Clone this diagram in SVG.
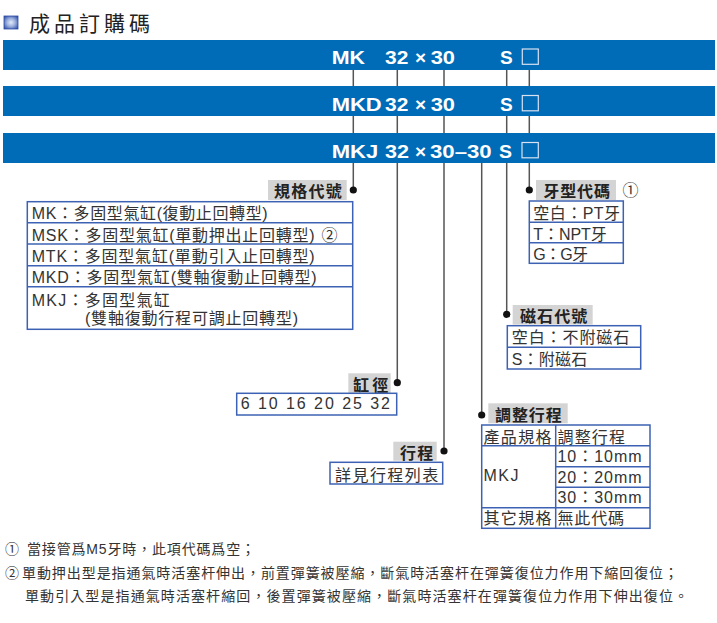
<svg xmlns="http://www.w3.org/2000/svg" width="717" height="623" viewBox="0 0 717 623">
<defs>
<radialGradient id="ico" cx="50%" cy="50%" r="65%">
<stop offset="0" stop-color="#e4ebf8"/>
<stop offset="0.45" stop-color="#9fb3e0"/>
<stop offset="1" stop-color="#2d4da6"/>
</radialGradient>
<style>
.bar{fill:#006bb6}
.bt{font-family:"Liberation Sans","Noto Sans CJK TC",sans-serif;font-weight:bold;font-size:19px;fill:#fff}
.bx{fill:none;stroke:#d6e2f2;stroke-width:1.2}
.ln{stroke:#555;stroke-width:1.5;fill:none}
.dot{fill:#111}
.lbg{fill:#d4d4d4}
.lt{font-family:"Noto Sans CJK TC","Liberation Sans",sans-serif;font-weight:bold;font-size:16px;fill:#222}
.tb{fill:#fff;stroke:#3d62b3;stroke-width:1.5}
.tl{stroke:#3d62b3;stroke-width:1.5}
.tt{font-family:"Liberation Sans","Noto Sans CJK TC",sans-serif;font-size:16px;fill:#333}
.fn{font-family:"Liberation Sans","Noto Sans CJK TC",sans-serif;font-size:14px;fill:#333}
</style>
</defs>
<rect width="717" height="623" fill="#fff"/>

<g id="title">
<rect x="4" y="16" width="14" height="13" fill="url(#ico)" stroke="#2d4da6" stroke-width="0.8"/>
<text x="29" y="31" font-family="Noto Sans CJK TC,sans-serif" font-size="21" fill="#222" textLength="121" lengthAdjust="spacing">成品訂購碼</text>
</g>

<g id="connectors">
<line class="ln" x1="353.3" y1="70" x2="353.3" y2="190"/>
<line class="ln" x1="397.3" y1="70" x2="397.3" y2="382.7"/>
<line class="ln" x1="444" y1="70" x2="444" y2="451"/>
<line class="ln" x1="481.7" y1="163" x2="481.7" y2="415"/>
<line class="ln" x1="506.7" y1="70" x2="506.7" y2="314.3"/>
<line class="ln" x1="529.3" y1="70" x2="529.3" y2="190"/>
<circle class="dot" cx="353.3" cy="190" r="3.6"/>
<circle class="dot" cx="397.3" cy="382.7" r="3.6"/>
<circle class="dot" cx="444" cy="451" r="3.6"/>
<circle class="dot" cx="481.7" cy="415" r="3.6"/>
<circle class="dot" cx="506.7" cy="314.3" r="3.6"/>
<circle class="dot" cx="529.3" cy="190" r="3.6"/>
</g>

<g id="bar-mk">
<rect class="bar" x="3" y="40" width="712" height="30"/>
<text class="bt" x="331.7" y="64" textLength="33.3" lengthAdjust="spacingAndGlyphs">MK</text>
<text class="bt" x="385" y="64" textLength="23.3" lengthAdjust="spacingAndGlyphs">32</text>
<text class="bt" x="415" y="64" font-size="15">×</text>
<text class="bt" x="430.7" y="64" textLength="24.3" lengthAdjust="spacingAndGlyphs">30</text>
<text class="bt" x="500" y="64" textLength="12.7" lengthAdjust="spacingAndGlyphs">S</text>
<rect class="bx" x="522.3" y="49" width="16" height="15.3"/>
</g>

<g id="bar-mkd">
<rect class="bar" x="3" y="86" width="712" height="30"/>
<text class="bt" x="331.7" y="110.7" textLength="50" lengthAdjust="spacingAndGlyphs">MKD</text>
<text class="bt" x="385" y="110.7" textLength="23.3" lengthAdjust="spacingAndGlyphs">32</text>
<text class="bt" x="415" y="110.7" font-size="15">×</text>
<text class="bt" x="430.7" y="110.7" textLength="24.3" lengthAdjust="spacingAndGlyphs">30</text>
<text class="bt" x="500" y="110.7" textLength="12.7" lengthAdjust="spacingAndGlyphs">S</text>
<rect class="bx" x="522.3" y="95.5" width="16" height="15.3"/>
</g>

<g id="bar-mkj">
<rect class="bar" x="3" y="133" width="712" height="30"/>
<text class="bt" x="331.7" y="157.7" textLength="46.6" lengthAdjust="spacingAndGlyphs">MKJ</text>
<text class="bt" x="385" y="157.7" textLength="24" lengthAdjust="spacingAndGlyphs">32</text>
<text class="bt" x="415" y="157.7" font-size="15">×</text>
<text class="bt" x="430" y="157.7" textLength="61.7" lengthAdjust="spacingAndGlyphs">30–30</text>
<text class="bt" x="499" y="157.7" textLength="13" lengthAdjust="spacingAndGlyphs">S</text>
<rect class="bx" x="522" y="142.5" width="16.3" height="15.3"/>
</g>

<g id="spec-code">
<rect class="lbg" x="268" y="180" width="78.7" height="20"/>
<text class="lt" x="274" y="197" textLength="67.7" lengthAdjust="spacing">規格代號</text>
<rect class="tb" x="27.3" y="201.7" width="325.4" height="127.6"/>
<line class="tl" x1="27.3" y1="222.7" x2="352.7" y2="222.7"/>
<line class="tl" x1="27.3" y1="244" x2="352.7" y2="244"/>
<line class="tl" x1="27.3" y1="265.7" x2="352.7" y2="265.7"/>
<line class="tl" x1="27.3" y1="286.7" x2="352.7" y2="286.7"/>
<text class="tt" x="31.7" y="219" textLength="236" lengthAdjust="spacing">MK：多固型氣缸(復動止回轉型)</text>
<text class="tt" x="31.7" y="240.5" textLength="283" lengthAdjust="spacing">MSK：多固型氣缸(單動押出止回轉型)</text>
<text class="tt" x="321.5" y="240.5">②</text>
<text class="tt" x="31.7" y="262" textLength="283" lengthAdjust="spacing">MTK：多固型氣缸(單動引入止回轉型)</text>
<text class="tt" x="31.7" y="283" textLength="285" lengthAdjust="spacing">MKD：多固型氣缸(雙軸復動止回轉型)</text>
<text class="tt" x="31.7" y="305.5" textLength="138" lengthAdjust="spacing">MKJ：多固型氣缸</text>
<text class="tt" x="85" y="324" textLength="213" lengthAdjust="spacing">(雙軸復動行程可調止回轉型)</text>
</g>

<g id="bore">
<rect class="lbg" x="348.3" y="373.3" width="42.4" height="20"/>
<text class="lt" x="353.3" y="390.5" textLength="35" lengthAdjust="spacing">缸徑</text>
<rect class="tb" x="236.7" y="393.3" width="160" height="21.7"/>
<text class="tt" x="240.7" y="409" textLength="149.3" lengthAdjust="spacing">6 10 16 20 25 32</text>
</g>

<g id="stroke">
<rect class="lbg" x="393.3" y="441.7" width="43.4" height="19"/>
<text class="lt" x="400" y="458.5" textLength="33.3" lengthAdjust="spacing">行程</text>
<rect class="tb" x="330" y="462.3" width="112.7" height="21.7"/>
<text class="tt" x="335" y="480.5" textLength="103.3" lengthAdjust="spacing">詳見行程列表</text>
</g>

<g id="adjust-stroke">
<rect class="lbg" x="488.3" y="403.3" width="79.4" height="20"/>
<text class="lt" x="495" y="420.5" textLength="66.7" lengthAdjust="spacing">調整行程</text>
<rect class="tb" x="481.7" y="425" width="168.3" height="103.3"/>
<line class="tl" x1="481.7" y1="445.7" x2="650" y2="445.7"/>
<line class="tl" x1="555.7" y1="466.7" x2="650" y2="466.7"/>
<line class="tl" x1="555.7" y1="487.3" x2="650" y2="487.3"/>
<line class="tl" x1="481.7" y1="507.7" x2="650" y2="507.7"/>
<line class="tl" x1="555.7" y1="425" x2="555.7" y2="528.3"/>
<text class="tt" x="483.5" y="442.5" textLength="68" lengthAdjust="spacing">產品規格</text>
<text class="tt" x="557.5" y="442.5" textLength="67.5" lengthAdjust="spacing">調整行程</text>
<text class="tt" x="483.5" y="481" textLength="35" lengthAdjust="spacing">MKJ</text>
<text class="tt" x="557.5" y="462" textLength="84" lengthAdjust="spacing">10：10mm</text>
<text class="tt" x="557.5" y="482.5" textLength="84" lengthAdjust="spacing">20：20mm</text>
<text class="tt" x="557.5" y="503" textLength="84" lengthAdjust="spacing">30：30mm</text>
<text class="tt" x="483.5" y="524" textLength="68" lengthAdjust="spacing">其它規格</text>
<text class="tt" x="557.5" y="524" textLength="66.5" lengthAdjust="spacing">無此代碼</text>
</g>

<g id="magnet-code">
<rect class="lbg" x="512.7" y="305" width="80" height="19.5"/>
<text class="lt" x="520" y="321.5" textLength="67.3" lengthAdjust="spacing">磁石代號</text>
<rect class="tb" x="507.3" y="325.7" width="133.4" height="43.3"/>
<line class="tl" x1="507.3" y1="347.3" x2="640.7" y2="347.3"/>
<text class="tt" x="511.7" y="343" textLength="117.6" lengthAdjust="spacing">空白：不附磁石</text>
<text class="tt" x="511.7" y="365" textLength="75.6" lengthAdjust="spacing">S：附磁石</text>
</g>

<g id="thread-code">
<rect class="lbg" x="536" y="180" width="80" height="20"/>
<text class="lt" x="543.3" y="197" textLength="66.7" lengthAdjust="spacing">牙型代碼</text>
<text class="tt" x="622.5" y="196">①</text>
<rect class="tb" x="529.3" y="201" width="94" height="62.3"/>
<line class="tl" x1="529.3" y1="222.3" x2="623.3" y2="222.3"/>
<line class="tl" x1="529.3" y1="242.7" x2="623.3" y2="242.7"/>
<text class="tt" x="533.3" y="219" textLength="86.7" lengthAdjust="spacing">空白：PT牙</text>
<text class="tt" x="533.3" y="240" textLength="73.4" lengthAdjust="spacing">T：NPT牙</text>
<text class="tt" x="533.3" y="260" textLength="54.7" lengthAdjust="spacing">G：G牙</text>
</g>

<g id="notes">
<text class="fn" x="5" y="554">①</text>
<text class="fn" x="27" y="554" textLength="228" lengthAdjust="spacing">當接管爲M5牙時，此項代碼爲空；</text>
<text class="fn" x="5" y="577.5">②</text>
<text class="fn" x="22" y="577.5" textLength="656" lengthAdjust="spacing">單動押出型是指通氣時活塞杆伸出，前置彈簧被壓縮，斷氣時活塞杆在彈簧復位力作用下縮回復位；</text>
<text class="fn" x="25" y="601" textLength="663" lengthAdjust="spacing">單動引入型是指通氣時活塞杆縮回，後置彈簧被壓縮，斷氣時活塞杆在彈簧復位力作用下伸出復位。</text>
</g>
</svg>
